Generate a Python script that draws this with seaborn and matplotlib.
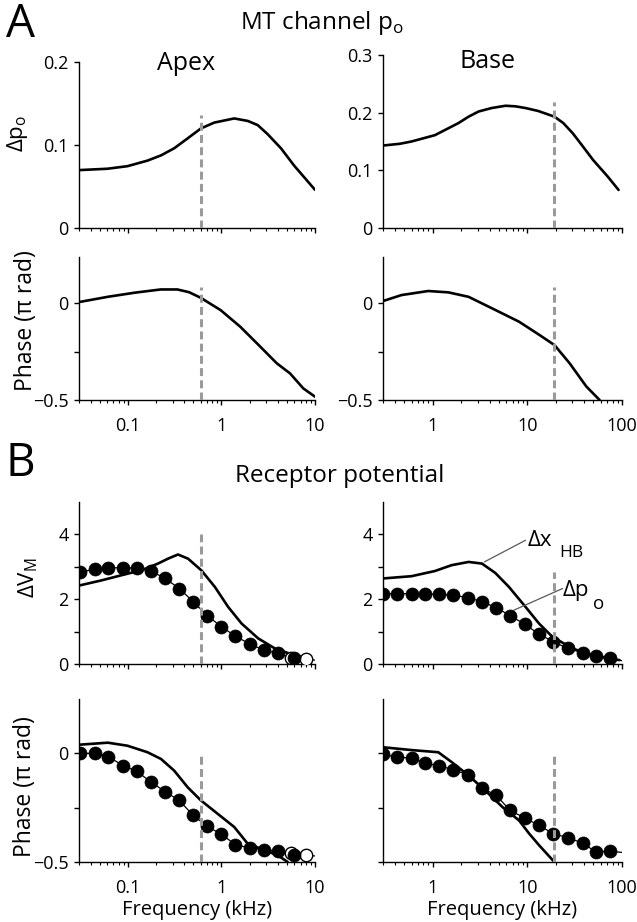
import numpy as np
import pandas as pd
import seaborn as sns
import matplotlib
matplotlib.use("Agg")
from matplotlib import pyplot as plt
from matplotlib.ticker import NullFormatter

# ---- data (frequency in kHz) ----
# A: MT channel open probability
apex_mag_f = [0.0307, 0.0606, 0.099, 0.162, 0.226, 0.313, 0.435, 0.604, 0.838, 1.37, 1.91, 2.44, 3.12, 4.33, 6.0, 10]
apex_mag_v = [0.0698, 0.0714, 0.0745, 0.0812, 0.0875, 0.0961, 0.108, 0.120, 0.127, 0.132, 0.129, 0.124, 0.113, 0.096, 0.075, 0.046]
apex_ph_f = [0.031, 0.061, 0.117, 0.224, 0.338, 0.45, 0.6, 0.98, 1.59, 2.6, 3.9, 5.4, 7.5, 10]
apex_ph_v = [0.008, 0.034, 0.055, 0.072, 0.072, 0.058, 0.029, -0.035, -0.121, -0.224, -0.31, -0.362, -0.44, -0.483]
base_mag_f = [0.3, 0.45, 0.6, 1.06, 1.88, 2.4, 3.06, 4.2, 5.9, 7.5, 9.6, 13, 19.4, 24, 30.3, 38, 49.5, 70, 92]
base_mag_v = [0.143, 0.146, 0.150, 0.161, 0.182, 0.193, 0.202, 0.208, 0.212, 0.211, 0.208, 0.203, 0.193, 0.182, 0.164, 0.143, 0.118, 0.090, 0.066]
base_ph_f = [0.3, 0.47, 0.9, 1.47, 2.4, 4.6, 8.2, 13.5, 19.4, 28, 42, 58]
base_ph_v = [0.012, 0.043, 0.064, 0.057, 0.034, -0.034, -0.095, -0.164, -0.216, -0.31, -0.43, -0.5]

# B: receptor potential, apex
apex_dot_f = [0.031, 0.044, 0.062, 0.088, 0.125, 0.177, 0.25, 0.354, 0.5, 0.707, 1.0, 1.41, 2.0, 2.83, 4.0, 6.0]
apex_dot_mag = [2.84, 2.92, 2.97, 2.97, 2.96, 2.87, 2.64, 2.33, 1.92, 1.49, 1.15, 0.86, 0.62, 0.43, 0.33, 0.17]
apex_dot_ph = [0, 0, -0.015, -0.056, -0.083, -0.133, -0.176, -0.217, -0.286, -0.336, -0.373, -0.42, -0.436, -0.443, -0.45, -0.469]
apex_open_f = [5.6, 8.0]
apex_open_mag = [0.2, 0.15]
apex_open_ph = [-0.459, -0.468]
apex_tail_f, apex_tail_mag, apex_tail_ph = 10, 0.12, -0.472
apex_xhb_f = [0.031, 0.052, 0.1, 0.139, 0.21, 0.268, 0.343, 0.44, 0.61, 0.85, 1.18, 1.64, 2.47, 3.72, 5.6, 8.1]
apex_xhb_mag = [2.43, 2.58, 2.79, 2.89, 3.10, 3.25, 3.38, 3.25, 2.89, 2.38, 1.76, 1.25, 0.79, 0.48, 0.30, 0.19]
apex_xhb_ph_f = [0.031, 0.061, 0.099, 0.162, 0.226, 0.313, 0.435, 0.604, 0.91, 1.37, 1.91, 2.64, 3.99, 5.1]
apex_xhb_ph = [0.040, 0.049, 0.035, 0.005, -0.026, -0.080, -0.156, -0.217, -0.278, -0.339, -0.416, -0.439, -0.469, -0.5]

# B: receptor potential, base
base_dot_f = [0.3, 0.42, 0.6, 0.83, 1.17, 1.66, 2.36, 3.32, 4.72, 6.6, 9.4, 13.3, 18.9, 26.6, 38.5, 53, 75]
base_dot_mag = [2.17, 2.17, 2.17, 2.17, 2.15, 2.12, 2.05, 1.92, 1.74, 1.49, 1.23, 0.92, 0.69, 0.48, 0.35, 0.26, 0.19]
base_dot_ph = [-0.003, -0.018, -0.021, -0.046, -0.057, -0.076, -0.099, -0.159, -0.194, -0.263, -0.297, -0.332, -0.37, -0.388, -0.413, -0.454, -0.45]
base_tail_f, base_tail_mag, base_tail_ph = 100, 0.10, -0.456
base_xhb_f = [0.3, 0.6, 1.06, 1.59, 2.4, 3.32, 4.6, 6.4, 9.6, 13.3, 18.4, 30, 49, 94]
base_xhb_mag = [2.64, 2.71, 2.87, 3.05, 3.15, 3.10, 2.81, 2.38, 1.76, 1.25, 0.84, 0.48, 0.26, 0.12]
base_xhb_ph_f = [0.3, 0.6, 1.15, 1.6, 2.4, 3.6, 5.5, 8.2, 10.5, 13.4, 18.6, 19.5]
base_xhb_ph = [0.028, 0.015, 0.005, -0.041, -0.102, -0.171, -0.248, -0.309, -0.37, -0.424, -0.492, -0.5]

# characteristic frequencies (dashed lines)
cf_apex = 0.6
cf_base = 19

sns.set_style("ticks")
plt.rcParams['font.family'] = ['Open Sans', 'DejaVu Sans']
plt.rcParams['mathtext.fontset'] = 'custom'
plt.rcParams['mathtext.rm'] = 'Open Sans'
plt.rcParams['text.color'] = 'black'
plt.rcParams['axes.labelcolor'] = 'black'
plt.rcParams['axes.linewidth'] = 1.0
plt.rcParams['xtick.major.size'] = 3.5
plt.rcParams['xtick.minor.size'] = 2
plt.rcParams['ytick.major.size'] = 3.5
plt.rcParams['xtick.major.width'] = 1
plt.rcParams['xtick.minor.width'] = 0.8
plt.rcParams['ytick.major.width'] = 1
plt.rcParams['xtick.color'] = 'black'
plt.rcParams['ytick.color'] = 'black'
plt.rcParams['xtick.labelcolor'] = 'black'
plt.rcParams['ytick.labelcolor'] = 'black'
plt.rcParams['axes.edgecolor'] = 'black'

W, H = 637, 922
fig = plt.figure(figsize=(W / 100, H / 100), dpi=100)


def rect(x0, y0, x1, y1):
    # pixel box -> figure fraction
    return [x0 / W, 1 - y1 / H, (x1 - x0) / W, (y1 - y0) / H]


ax_a1 = fig.add_axes(rect(79, 62, 315, 228))
ax_a2 = fig.add_axes(rect(383, 55, 622, 228))
ax_a3 = fig.add_axes(rect(79, 257, 315, 400))
ax_a4 = fig.add_axes(rect(383, 257, 622, 400))
ax_b1 = fig.add_axes(rect(79, 502, 315, 664))
ax_b2 = fig.add_axes(rect(383, 502, 622, 664))
ax_b3 = fig.add_axes(rect(79, 699, 315, 862))
ax_b4 = fig.add_axes(rect(383, 699, 622, 862))

LW = 1.9
dash_kw = dict(color='#9a9a9a', lw=2.2, dashes=(2.6, 1.4), zorder=6)

# A curves
sns.lineplot(x=apex_mag_f, y=apex_mag_v, ax=ax_a1, color='k', linewidth=LW)
sns.lineplot(x=base_mag_f, y=base_mag_v, ax=ax_a2, color='k', linewidth=LW)
sns.lineplot(x=apex_ph_f, y=apex_ph_v, ax=ax_a3, color='k', linewidth=LW)
sns.lineplot(x=base_ph_f, y=base_ph_v, ax=ax_a4, color='k', linewidth=LW)


# B curves
def receptor(ax, xf, xv, df, dv, tf, tv, of=None, ov=None):
    sns.lineplot(x=xf, y=xv, ax=ax, color='k', linewidth=LW, zorder=3)
    sns.lineplot(x=list(df) + [tf], y=list(dv) + [tv], ax=ax, color='k', linewidth=0.9, zorder=3)
    if of is not None:
        sns.scatterplot(x=of, y=ov, ax=ax, s=80, color='white', edgecolor='k', linewidth=1, zorder=4)
    sns.scatterplot(x=df, y=dv, ax=ax, s=88, color='k', edgecolor='k', linewidth=0.5, zorder=5)


receptor(ax_b1, apex_xhb_f, apex_xhb_mag, apex_dot_f, apex_dot_mag, apex_tail_f, apex_tail_mag,
         apex_open_f, apex_open_mag)
receptor(ax_b2, base_xhb_f, base_xhb_mag, base_dot_f, base_dot_mag, base_tail_f, base_tail_mag)
receptor(ax_b3, apex_xhb_ph_f, apex_xhb_ph, apex_dot_f, apex_dot_ph, apex_tail_f, apex_tail_ph,
         apex_open_f, apex_open_ph)
receptor(ax_b4, base_xhb_ph_f, base_xhb_ph, base_dot_f, base_dot_ph, base_tail_f, base_tail_ph)

# dashed characteristic-frequency lines
ax_a1.axvline(cf_apex, ymin=0, ymax=0.68, **dash_kw)
ax_a2.axvline(cf_base, ymin=0, ymax=0.73, **dash_kw)
ax_a3.axvline(cf_apex, ymin=0, ymax=0.79, **dash_kw)
ax_a4.axvline(cf_base, ymin=0, ymax=0.79, **dash_kw)
ax_b1.axvline(cf_apex, ymin=0, ymax=0.80, **dash_kw)
ax_b2.axvline(cf_base, ymin=0, ymax=0.57, **dash_kw)
ax_b3.axvline(cf_apex, ymin=0, ymax=0.67, **dash_kw)
ax_b4.axvline(cf_base, ymin=0, ymax=0.67, **dash_kw)

TICK_FS = 13
left_axes = [ax_a1, ax_a3, ax_b1, ax_b3]
for ax in [ax_a1, ax_a2, ax_a3, ax_a4, ax_b1, ax_b2, ax_b3, ax_b4]:
    ax.set_xscale('log')
    if ax in left_axes:
        ax.set_xlim(0.03, 10)
        ax.set_xticks([0.1, 1, 10])
    else:
        ax.set_xlim(0.3, 100)
        ax.set_xticks([1, 10, 100])
    ax.xaxis.set_minor_formatter(NullFormatter())
    ax.tick_params(axis='both', which='both', direction='out', labelsize=TICK_FS)
    ax.tick_params(axis='x', pad=9)
    ax.tick_params(axis='y', pad=4)
    sns.despine(ax=ax)
    ax.set_xlabel('')
    ax.set_ylabel('')

# x tick labels only on the phase rows
for ax in [ax_a1, ax_a2, ax_b1, ax_b2]:
    ax.set_xticklabels([])
ax_a3.set_xticklabels(['0.1', '1', '10'])
ax_b3.set_xticklabels(['0.1', '1', '10'])
ax_a4.set_xticklabels(['1', '10', '100'])
ax_b4.set_xticklabels(['1', '10', '100'])

# y axes
ax_a1.set_ylim(0, 0.2)
ax_a1.set_yticks([0, 0.1, 0.2], ['0', '0.1', '0.2'])
ax_a2.set_ylim(0, 0.3)
ax_a2.set_yticks([0, 0.1, 0.2, 0.3], ['0', '0.1', '0.2', '0.3'])
for ax in [ax_a3, ax_a4]:
    ax.set_ylim(-0.5, 0.24)
    ax.set_yticks([-0.5, -0.25, 0], ['\u22120.5', '', '0'])
for ax in [ax_b1, ax_b2]:
    ax.set_ylim(0, 5)
    ax.set_yticks([0, 1, 2, 3, 4], ['0', '', '2', '', '4'])
ax_b3.set_ylim(-0.5, 0.25)
ax_b3.set_yticks([-0.5, -0.25, 0], ['\u22120.5', '', '0'])
ax_b4.set_ylim(-0.5, 0.25)
ax_b4.set_yticks([-0.5, -0.25, 0], ['', '', ''])

ax_b3.set_xlabel('Frequency (kHz)', fontsize=14.5, labelpad=2)
ax_b4.set_xlabel('Frequency (kHz)', fontsize=14.5, labelpad=2)


def ftext(x, y, s, **kw):
    fig.text(x / W, 1 - y / H, s, **kw)


ftext(6, 25, 'A', fontsize=33, va='center', ha='left')
ftext(6, 464, 'B', fontsize=33, va='center', ha='left')
ftext(322, 23, 'MT channel p$_\\mathregular{o}$', fontsize=17.5, ha='center', va='center')
ftext(340, 476, 'Receptor potential', fontsize=17.5, ha='center', va='center')
ftext(186, 64, 'Apex', fontsize=18, ha='center', va='center')
ftext(488, 62, 'Base', fontsize=18, ha='center', va='center')
ftext(18, 133, '\u0394p$_\\mathregular{o}$', fontsize=16, rotation=90, ha='center', va='center')
ftext(26, 321, 'Phase (\u03c0 rad)', fontsize=16.5, rotation=90, ha='center', va='center')
ftext(28, 578, '\u0394V$_\\mathregular{M}$', fontsize=16, rotation=90, ha='center', va='center')
ftext(25, 787, 'Phase (\u03c0 rad)', fontsize=16.5, rotation=90, ha='center', va='center')

# labels on the base receptor-potential panel
line_kw = dict(arrowstyle='-', color='0.35', lw=0.9, shrinkA=0, shrinkB=0)
ax_b2.annotate('', xy=(3.52, 3.15), xytext=(9.6, 3.82), arrowprops=line_kw)
ax_b2.annotate('', xy=(7.2, 1.66), xytext=(23.6, 2.33), arrowprops=line_kw)
ax_b2.text(10.2, 3.64, '\u0394x', fontsize=16, ha='left', va='baseline')
ax_b2.text(22, 3.3, 'HB', fontsize=12.5, ha='left', va='baseline')
ax_b2.text(23.4, 2.1, '\u0394p', fontsize=16, ha='left', va='baseline')
ax_b2.text(50, 1.7, 'o', fontsize=13.5, ha='left', va='baseline')

fig.savefig('out.png', dpi=100)
